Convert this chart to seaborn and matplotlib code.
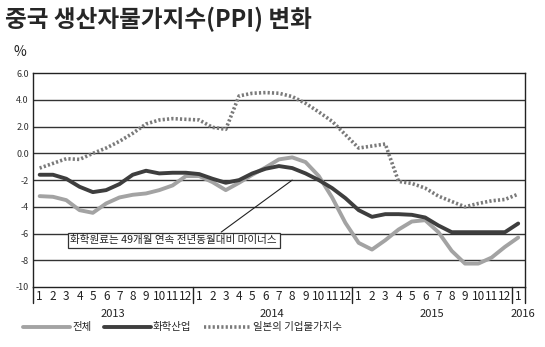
import matplotlib
matplotlib.use("Agg")
import matplotlib.pyplot as plt
import seaborn as sns
import pandas as pd
import numpy as np
from matplotlib.lines import Line2D

years = ["2013", "2014", "2015", "2016"]
months = [str(m) for m in range(1, 13)] * 3 + ["1"]

total = [-3.2, -3.25, -3.5, -4.25, -4.45, -3.75, -3.3, -3.1, -3.0, -2.75, -2.4, -1.7,
         -1.7, -2.15, -2.75, -2.2, -1.6, -1.05, -0.45, -0.3, -0.65, -1.7,
         -3.3, -5.2, -6.7, -7.2, -6.5, -5.7, -5.1, -5.0, -5.9, -7.3, -8.25, -8.25, -7.8, -7.0, -6.3]
chem = [-1.6, -1.6, -1.9, -2.5, -2.9, -2.75, -2.3, -1.6, -1.3, -1.5, -1.45, -1.45,
        -1.55, -1.9, -2.2, -2.0, -1.5, -1.15, -0.95, -1.1, -1.5, -2.0,
        -2.6, -3.35, -4.25, -4.75, -4.55, -4.55, -4.6, -4.8, -5.4, -5.9, -5.9, -5.9, -5.9, -5.9, -5.25]
japan = [-1.1, -0.75, -0.4, -0.45, 0.0, 0.4, 0.9, 1.5, 2.2, 2.5, 2.6, 2.55,
         2.5, 1.95, 1.8, 4.3, 4.5, 4.55, 4.5, 4.25, 3.75, 3.1,
         2.4, 1.4, 0.4, 0.55, 0.7, -2.1, -2.25, -2.6, -3.2, -3.6, -4.0, -3.75, -3.55, -3.45, -3.05]
series_names = ["전체", "화학산업", "일본의 기업물가지수"]
yticks = [-10, -8, -6, -4, -2, 0, 2, 4, 6]
ytick_labels = ["-10", "-8", "-6", "-4", "-2", "0.0", "2.0", "4.0", "6.0"]
note = "화학원료는 49개월 연속 전년동월대비 마이너스"

idx = list(range(len(months)))
df = pd.DataFrame({
    "idx": idx * 3,
    "value": total + chem + japan,
    "series": [series_names[0]] * len(idx) + [series_names[1]] * len(idx) + [series_names[2]] * len(idx),
})

sns.set_theme(style="white")
plt.rcParams['font.family'] = ['Noto Sans CJK KR', 'DejaVu Sans']

fig = plt.figure(figsize=(5.45, 3.47), dpi=100)
ax = fig.add_axes([0.0606, 0.173, 0.9024, 0.616])

palette = {series_names[0]: "#a3a3a3", series_names[1]: "#3e3e3e", series_names[2]: "#7a7a7a"}
sns.lineplot(data=df[df.series != series_names[2]], x="idx", y="value", hue="series",
             palette=palette, linewidth=2.8, ax=ax, legend=False, sort=False)
sns.lineplot(data=df[df.series == series_names[2]], x="idx", y="value", color=palette[series_names[2]],
             linewidth=2.6, ax=ax, legend=False, sort=False)
ax.lines[-1].set_linestyle((0, (0.6, 0.6)))

ax.set_xlim(-0.5, 36.5)
ax.set_ylim(-10, 6)
ax.set_yticks(yticks)
ax.set_yticklabels(ytick_labels, fontsize=6.5, color="#333333")
for y in yticks[1:-1]:
    ax.axhline(y, color="#333333", lw=1.0, zorder=0)
ax.set_xticks(idx)
ax.set_xticklabels(months, fontsize=8.5, color="#222222")
ax.tick_params(axis="both", length=0, pad=3)
ax.tick_params(axis="x", pad=2)
ax.set_xlabel("")
ax.set_ylabel("")
for s in ax.spines.values():
    s.set_color("#222222")
    s.set_linewidth(1.0)

trans = matplotlib.transforms.blended_transform_factory(ax.transData, ax.transAxes)
for xs in [-0.5, 11.5, 23.5, 35.5, 36.5]:
    ax.plot([xs, xs], [0, -0.075], transform=trans, color="#222222", lw=1.0, clip_on=False)
for xp, yr, ha in [(5.5, years[0], "center"), (17.5, years[1], "center"), (29.5, years[2], "center"), (37.3, years[3], "right")]:
    ax.text(xp, -0.105, yr, transform=trans, ha=ha, va="top", fontsize=8, color="#222222")

ax.annotate(note, xy=(19, -2.0), xytext=(2.3, -6.5), textcoords="data", ha="left", va="center",
            fontsize=7.6, color="#222222",
            bbox=dict(boxstyle="square,pad=0.25", fc="white", ec="#333333", lw=0.9),
            arrowprops=dict(arrowstyle="-", color="#222222", lw=0.8, relpos=(0.71, 1.0),
                            shrinkA=0, shrinkB=0))

fig.text(0.01, 0.98, "중국 생산자물가지수(PPI) 변화", fontsize=17, fontweight="black", va="top", ha="left")
fig.text(0.024, 0.87, "%", fontsize=10, va="top", ha="left", color="#222222")

handles = [Line2D([], [], color=palette[series_names[0]], lw=2.8),
           Line2D([], [], color=palette[series_names[1]], lw=2.8),
           Line2D([], [], color=palette[series_names[2]], lw=2.6, linestyle=(0, (0.6, 0.6)))]
fig.legend(handles, series_names, loc="lower left", bbox_to_anchor=(0.035, 0.03), ncol=3,
           frameon=False, fontsize=7.5, handlelength=4.5, handletextpad=0.2, columnspacing=1.2,
           borderaxespad=0)

fig.savefig("out.png", dpi=100, facecolor="white")
